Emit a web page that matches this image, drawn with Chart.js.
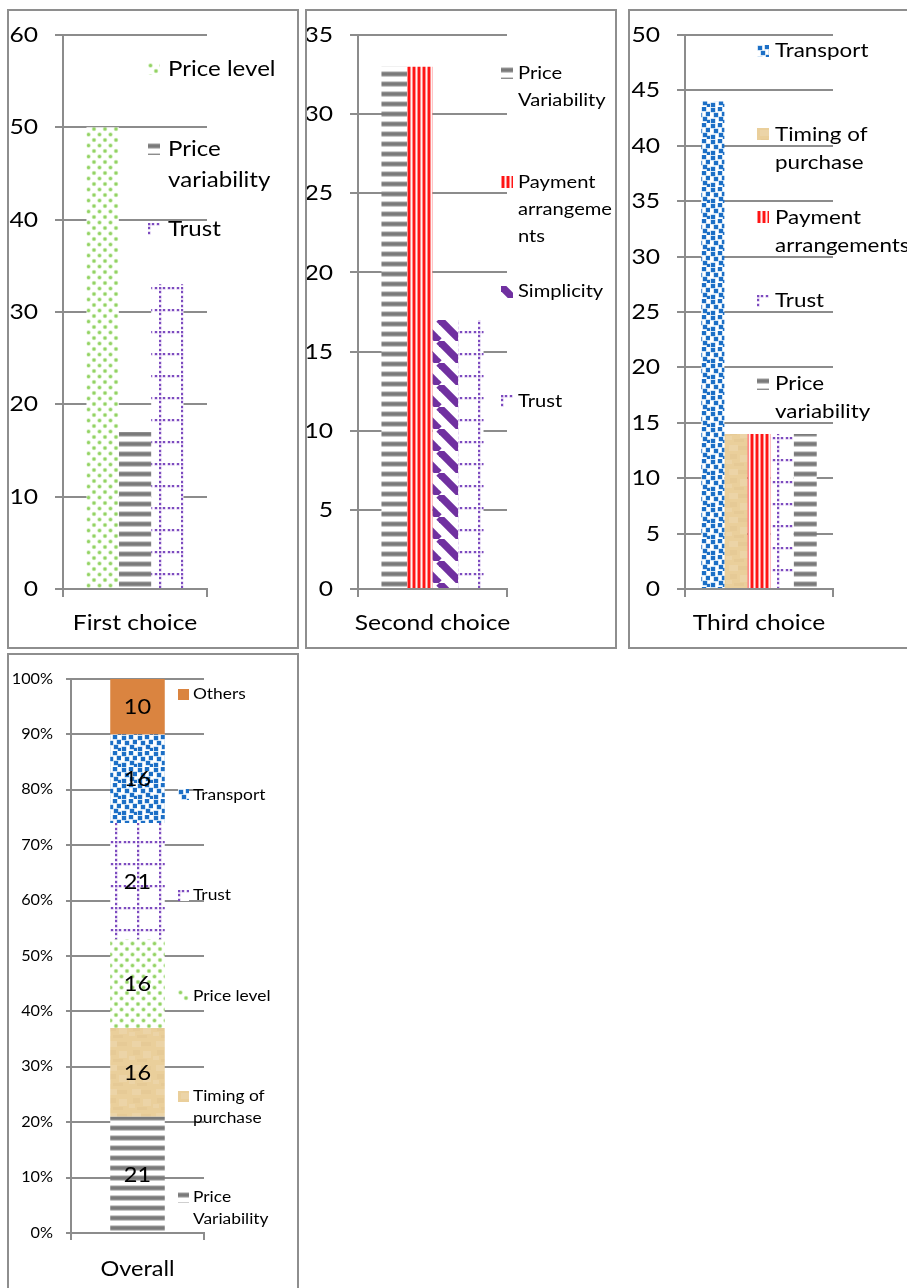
<!DOCTYPE html>
<html>
<head>
<meta charset="utf-8">
<script src="https://cdn.jsdelivr.net/npm/chart.js@4.4.1/dist/chart.umd.min.js"></script>
<style>
  html, body { margin: 0; padding: 0; background: #fff; overflow: hidden; width: 907px; height: 1288px; }
  .panel { position: absolute; box-sizing: border-box; border: 2px solid #8e8e8e; background: #fff; overflow: hidden; }
  .panel canvas { position: absolute; left: 0; top: 0; }
</style>
</head>
<body>
<div class="panel" style="left:7px;top:9px;width:292px;height:640px"><canvas id="c1"></canvas></div>
<div class="panel" style="left:305px;top:9px;width:312px;height:640px"><canvas id="c2"></canvas></div>
<div class="panel" style="left:628px;top:9px;width:320px;height:640px"><canvas id="c3"></canvas></div>
<div class="panel" style="left:7px;top:653px;width:292px;height:660px"><canvas id="c4"></canvas></div>
<script>
// ---- data ----
const firstLabels = ['First choice'];
const firstSeries = ['Price level', 'Price variability', 'Trust'];
const firstValues = [50, 17, 33];
const firstTicks = [0, 10, 20, 30, 40, 50, 60];

const secondLabels = ['Second choice'];
const secondSeries = ['Price Variability', 'Payment arrangements', 'Simplicity', 'Trust'];
const secondValues = [33, 33, 17, 17];
const secondTicks = [0, 5, 10, 15, 20, 25, 30, 35];

const thirdLabels = ['Third choice'];
const thirdSeries = ['Transport', 'Timing of purchase', 'Payment arrangements', 'Trust', 'Price variability'];
const thirdValues = [44, 14, 14, 14, 14];
const thirdTicks = [0, 5, 10, 15, 20, 25, 30, 35, 40, 45, 50];

const overallLabels = ['Overall'];
const overallSeries = ['Price Variability', 'Timing of purchase', 'Price level', 'Trust', 'Transport', 'Others'];
const overallValues = [21, 16, 16, 21, 16, 10];
const overallTicks = [0, 10, 20, 30, 40, 50, 60, 70, 80, 90, 100];

// ---- fills ----
function tile(w, h, draw) {
  const c = document.createElement('canvas');
  c.width = w; c.height = h;
  const g = c.getContext('2d');
  g.fillStyle = '#fff';
  g.fillRect(0, 0, w, h);
  draw(g, w, h);
  return g.createPattern(c, 'repeat');
}
function dot(g, x, y, r) { g.beginPath(); g.arc(x, y, r, 0, Math.PI * 2); g.fill(); }

const greenDots = () => tile(11, 11, g => {
  g.fillStyle = '#cdedb8'; dot(g, 2.5, 2.5, 2.3); dot(g, 8, 8, 2.3);
  g.fillStyle = '#94d264'; dot(g, 2.5, 2.5, 1.5); dot(g, 8, 8, 1.5);
});
const grayStripes = () => tile(4, 10, g => {
  const rows = ['#cfcfcf', '#8c8c8c', '#7a7a7a', '#7a7a7a', '#8c8c8c', '#c8c8c8'];
  rows.forEach((c, i) => { g.fillStyle = c; g.fillRect(0, i, 4, 1); });
});
const purpleGrid = () => tile(22, 22, g => {
  [0, 4, 9, 13, 18].forEach(p => {
    g.fillStyle = '#c9b0e6'; g.fillRect(p - 0.5, -0.5, 3, 3); g.fillRect(-0.5, p - 0.5, 3, 3);
  });
  g.fillStyle = '#7c4bbf';
  [0, 4, 9, 13, 18].forEach(p => { g.fillRect(p, 0, 2, 2); g.fillRect(0, p, 2, 2); });
});
const redStripes = () => tile(5, 4, g => {
  const cols = ['#ff8a8a', '#ff1414', '#ff1414', '#ff8a8a', '#fff2f2'];
  cols.forEach((c, i) => { g.fillStyle = c; g.fillRect(i, 0, 1, 4); });
});
const purpleDiagonal = () => tile(22, 22, g => {
  g.strokeStyle = '#7030a0';
  g.lineWidth = 7.5;
  [-22, 0, 22].forEach(k => { g.beginPath(); g.moveTo(k, 0); g.lineTo(k + 22, 22); g.stroke(); });
});
const blueConfetti = () => tile(16, 16, g => {
  const spots = [[1, 1], [8, 0], [12, 5], [4, 6], [9, 10], [1, 12], [13, 13]];
  g.fillStyle = '#a6c9ec';
  spots.forEach(([x, y]) => g.fillRect(x - 0.5, y - 0.5, 5, 5));
  g.fillStyle = '#1c6fc6';
  spots.forEach(([x, y]) => g.fillRect(x, y, 4, 4));
});
const tanPaper = () => tile(24, 24, g => {
  g.fillStyle = '#eacf9b'; g.fillRect(0, 0, 24, 24);
  g.fillStyle = 'rgba(255,255,255,0.12)'; g.fillRect(3, 2, 9, 6); g.fillRect(14, 12, 8, 7); g.fillRect(0, 17, 6, 4);
  g.fillStyle = 'rgba(180,140,80,0.07)'; g.fillRect(12, 3, 10, 4); g.fillRect(4, 11, 7, 5); g.fillRect(8, 20, 10, 3);
});
const orangeSolid = () => '#da8440';

const fillMakers = {
  'Price level': greenDots,
  'Price variability': grayStripes,
  'Price Variability': grayStripes,
  'Trust': purpleGrid,
  'Payment arrangements': redStripes,
  'Simplicity': purpleDiagonal,
  'Transport': blueConfetti,
  'Timing of purchase': tanPaper,
  'Others': orangeSolid
};

function makeFill(name, shift) {
  const f = fillMakers[name]();
  if (shift && typeof f !== 'string') f.setTransform(new DOMMatrix().translate(shift[0], shift[1]));
  return f;
}

// Glyphs are drawn slightly wider than the font's natural width.
const TEXT_STRETCH = 1.12;
function widenText(ctx, sx) {
  if (ctx.__widened) return;
  const base = ctx.fillText;
  ctx.fillText = function (text, x, y, maxWidth) {
    this.save();
    this.translate(x, y);
    this.scale(sx, 1);
    if (maxWidth === undefined) base.call(this, text, 0, 0);
    else base.call(this, text, 0, 0, maxWidth / sx);
    this.restore();
  };
  ctx.__widened = true;
}

// ---- plugins ----
function wrapText(ctx, text, maxW, breakWords) {
  const words = text.split(' ');
  const lines = [];
  let cur = '';
  for (const w of words) {
    const t = cur ? cur + ' ' + w : w;
    if (!cur || ctx.measureText(t).width <= maxW) cur = t;
    else { lines.push(cur); cur = w; }
  }
  lines.push(cur);
  if (!breakWords) return lines;
  const out = [];
  for (let l of lines) {
    while (l.length > 1 && ctx.measureText(l).width > maxW) {
      let n = l.length;
      while (n > 1 && ctx.measureText(l.slice(0, n)).width > maxW) n--;
      out.push(l.slice(0, n));
      l = l.slice(n);
    }
    out.push(l);
  }
  return out;
}

const sideLegend = {
  id: 'sideLegend',
  afterDraw(chart, args, o) {
    const ctx = chart.ctx;
    const ds = chart.data.datasets;
    ctx.save();
    ctx.font = o.fontSize + 'px Lato';
    ctx.fillStyle = '#000';
    ctx.textAlign = 'left';
    ctx.textBaseline = 'middle';
    for (let i = 0; i < ds.length; i++) {
      const d = o.reverse ? ds[ds.length - 1 - i] : ds[i];
      const y = o.top + i * o.step;
      ctx.save();
      ctx.translate(o.iconX, Math.round(y - o.iconSize / 2));
      ctx.fillStyle = d.keyFill || d.backgroundColor;
      ctx.fillRect(0, 0, o.iconSize, o.iconSize);
      ctx.restore();
      const lines = wrapText(ctx, d.label, o.maxWidth, o.breakWords);
      lines.forEach((ln, k) => ctx.fillText(ln, o.textX, y + k * o.lineHeight));
    }
    ctx.restore();
  }
};

const barValues = {
  id: 'barValues',
  afterDatasetsDraw(chart, args, o) {
    if (!o.show) return;
    const ctx = chart.ctx;
    ctx.save();
    ctx.font = o.fontSize + 'px Lato';
    ctx.fillStyle = '#000';
    ctx.textAlign = 'center';
    ctx.textBaseline = 'middle';
    chart.data.datasets.forEach((d, i) => {
      chart.getDatasetMeta(i).data.forEach((bar, j) => {
        ctx.fillText(String(d.data[j]), bar.x, (bar.y + bar.base) / 2 + 1);
      });
    });
    ctx.restore();
  }
};

Chart.defaults.font.family = 'Lato';
Chart.defaults.color = '#000';

const GRID = '#8c8c8c';

function buildPanel(p) {
  const canvas = document.getElementById(p.id);
  canvas.width = p.w;
  canvas.height = p.h;
  widenText(canvas.getContext('2d'), TEXT_STRETCH);
  const datasets = p.series.map((name, i) => ({
    label: name,
    data: [p.values[i]],
    backgroundColor: makeFill(name, p.shift && p.shift[name]),
    keyFill: makeFill(name),
    borderWidth: 0,
    categoryPercentage: p.catPct,
    barPercentage: 1
  }));
  return new Chart(canvas, {
    type: 'bar',
    data: { labels: p.labels, datasets },
    options: {
      responsive: false,
      animation: false,
      devicePixelRatio: 1,
      events: [],
      layout: { autoPadding: false, padding: { left: 0, top: p.area.top, right: p.w - p.area.right, bottom: 0 } },
      plugins: {
        legend: { display: false },
        tooltip: { enabled: false },
        sideLegend: p.legend,
        barValues: { show: !!p.valueFont, fontSize: p.valueFont }
      },
      scales: {
        x: {
          stacked: !!p.stacked,
          grid: { display: true, drawOnChartArea: false, drawTicks: true, tickLength: p.xTickLen, color: GRID, lineWidth: 2 },
          border: { display: true, color: GRID, width: 2 },
          ticks: { font: { size: p.catFont }, padding: p.xPad, color: '#000' },
          afterFit: s => { s.height = p.h - p.area.bottom; s.paddingLeft = 0; s.paddingRight = 0; }
        },
        y: {
          stacked: !!p.stacked,
          min: p.ticks[0],
          max: p.ticks[p.ticks.length - 1],
          afterBuildTicks: s => { s.ticks = p.ticks.map(v => ({ value: v })); },
          grid: { color: GRID, lineWidth: 2, drawTicks: true, tickLength: p.yTickLen, tickColor: GRID },
          border: { display: true, color: GRID, width: 2 },
          ticks: { font: { size: p.tickFont }, padding: p.yPad, color: '#000', callback: p.fmt || (v => String(v)) },
          afterFit: s => { s.width = p.area.left; s.paddingTop = 0; s.paddingBottom = 0; }
        }
      }
    },
    plugins: [sideLegend, barValues]
  });
}

buildPanel({
  id: 'c1', w: 288, h: 636,
  labels: firstLabels, series: firstSeries, values: firstValues, ticks: firstTicks,
  area: { left: 54, right: 198, top: 24, bottom: 578 },
  catPct: 0.674, tickFont: 22, catFont: 22, yPad: 17, xPad: 13, yTickLen: 8, xTickLen: 8,
  shift: { 'Trust': [18, 12] },
  legend: { iconX: 139, textX: 159, top: 58, step: 80, lineHeight: 31, fontSize: 21.5, iconSize: 12, maxWidth: 125 }
});
buildPanel({
  id: 'c2', w: 308, h: 636,
  labels: secondLabels, series: secondSeries, values: secondValues, ticks: secondTicks,
  area: { left: 51, right: 200, top: 24, bottom: 578 },
  catPct: 0.685, tickFont: 22, catFont: 22, yPad: 17, xPad: 13, yTickLen: 8, xTickLen: 8,
  shift: { 'Trust': [17, 12] },
  legend: { iconX: 194, textX: 211, top: 62, step: 109.3, lineHeight: 27, fontSize: 18, iconSize: 12, maxWidth: 88, breakWords: true }
});
buildPanel({
  id: 'c3', w: 316, h: 636,
  labels: thirdLabels, series: thirdSeries, values: thirdValues, ticks: thirdTicks,
  area: { left: 55, right: 203, top: 24, bottom: 578 },
  catPct: 0.78, tickFont: 22, catFont: 22, yPad: 17, xPad: 13, yTickLen: 8, xTickLen: 8,
  shift: { 'Trust': [15, 8] },
  legend: { iconX: 127, textX: 145, top: 40, step: 83.2, lineHeight: 28, fontSize: 20, iconSize: 12, maxWidth: 120 }
});
buildPanel({
  id: 'c4', w: 288, h: 656, stacked: true,
  labels: overallLabels, series: overallSeries, values: overallValues, ticks: overallTicks,
  area: { left: 62, right: 195, top: 24, bottom: 578 },
  catPct: 0.41, tickFont: 14.5, catFont: 21, yPad: 13, xPad: 17, yTickLen: 5, xTickLen: 7,
  shift: { 'Trust': [18, 10] },
  fmt: v => v + '%', valueFont: 21,
  legend: { iconX: 169, textX: 184, top: 39, step: 100.6, lineHeight: 22, fontSize: 15.5, iconSize: 11, maxWidth: 95, reverse: true }
});
</script>
</body>
</html>
